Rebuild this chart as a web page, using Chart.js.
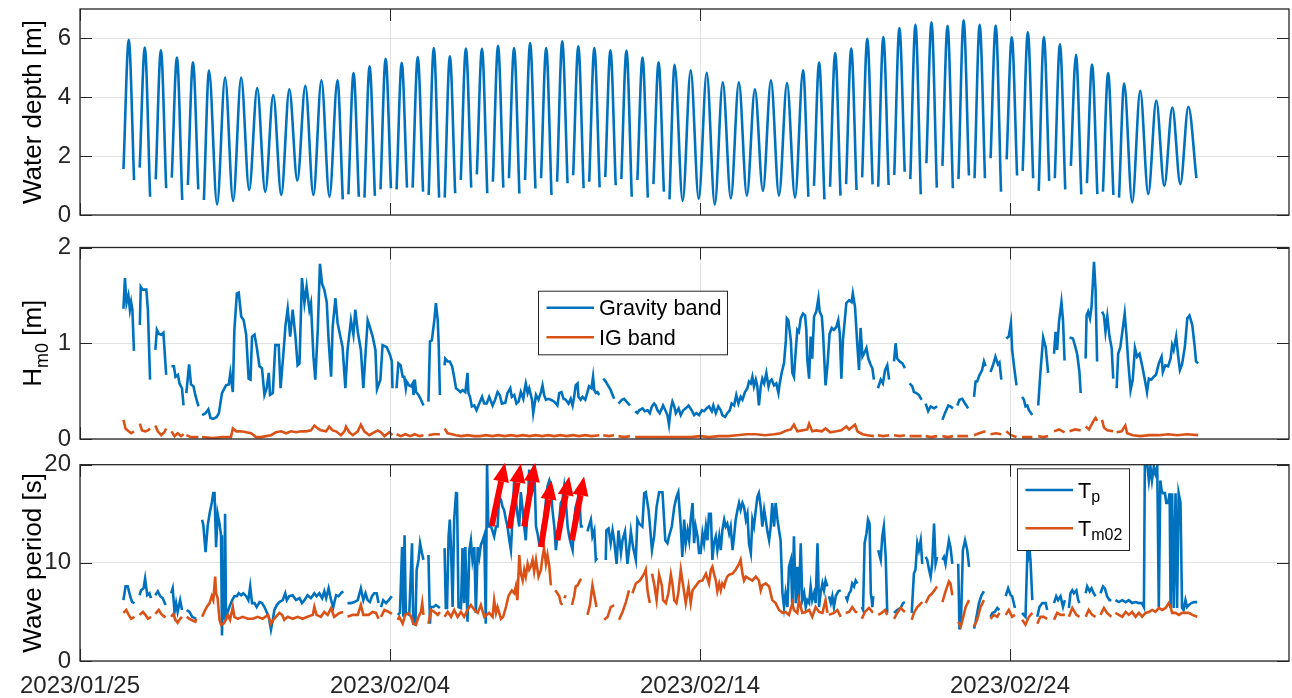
<!DOCTYPE html>
<html>
<head>
<meta charset="utf-8">
<script src="https://cdn.jsdelivr.net/npm/chart.js@4.4.1/dist/chart.umd.min.js"></script>
<style>
  body { margin: 0; background: #fff; overflow: hidden; }
  .panel { position: absolute; left: 0; width: 1292px; }
</style>
</head>
<body>
<div class="panel" style="top:0;height:232px"><canvas id="depthChart"></canvas></div>
<div class="panel" style="top:232px;height:218px"><canvas id="hsChart"></canvas></div>
<div class="panel" style="top:450px;height:248px"><canvas id="periodChart"></canvas></div>
<script>
// x axis: days after 2023/01/25
const xMax = 39;
const tickDays = [0, 10, 20, 30];
const tickLabels = ['2023/01/25', '2023/02/04', '2023/02/14', '2023/02/24'];

const depthTicks = [0, 2, 4, 6];
const hsTicks = [0, 1, 2];
const periodTicks = [0, 10, 20];

// water depth: high waters are evenly spaced (semi-diurnal tide)
const tideFirstHigh = 1.573;
const tidePeriod = 0.5179;
const depthStart = 1.56;
const depthHigh = [
  5.95, 5.69, 5.60, 5.35, 5.19, 4.91, 4.67, 4.67, 4.31, 4.08, 4.27, 4.39, 4.58, 4.58, 4.82, 5.05, 5.31, 5.17, 5.37, 5.67, 5.39, 5.66, 5.65,
  5.75, 5.67, 5.84, 5.67, 5.90, 5.73, 5.67, 5.60, 5.59, 5.35, 5.19, 5.10, 4.92, 4.83, 4.51, 4.51, 4.27, 4.58, 4.48, 4.92, 5.18, 5.50, 5.66, 5.99, 6.05,
  6.35, 6.46, 6.55, 6.43, 6.62, 6.46, 6.44, 6.04, 6.21, 6.05, 5.80, 5.44, 5.11, 4.82, 4.47, 4.22, 3.89, 3.65, 3.68
];
// low water after each high: one value = trough, two values = [last before gap, first after gap]
const depthLow = [
  [1.19, 1.61], [0.62, 1.21], [0.91, 1.27], [0.51, 1.02], [0.87, 0.51], 0.36, 0.48, 0.85, 0.79, 0.68, 1.17, 0.68, 0.62,
  [0.53, 0.70], [0.62, 0.59], [0.65, 0.87], [0.91, 0.87], [0.93, 0.93], [0.79, 0.68], [0.59, 0.59], [0.74, 1.19], [0.93, 1.38],
  [0.74, 1.13], [0.93, 1.25], [0.73, 1.19], [0.90, 1.25], [0.68, 1.13], [1.08, 1.35], [0.91, 1.13], [0.94, 1.29], [1.01, 1.22],
  [0.62, 1.19], [0.59, 1.05], [0.79, 0.53], 0.48, 0.55, 0.36, 0.57, 0.66, 0.82, 0.66, 0.59,
  [0.62, 0.99], [0.53, 0.96], [0.66, 1.05], [0.85, 1.28], [1.04, 0.96], [1.02, 1.36], [1.47, 1.22], [0.70, 1.76], [0.93, 1.67],
  [0.91, 1.22], [1.34, 1.25], [1.25, 1.93], [0.79, 1.89], [1.34, 1.50], [1.25, 0.82], [1.16, 1.25], [0.87, 1.67], [0.70, 1.08],
  [0.71, 0.79], [0.68, 0.59], 0.43, 0.71, 0.99, 1.05, 1.25
];

// Hm0 gravity band, segments of [day, m]
const hsGravity = [
  [[1.40,1.36],[1.45,1.68],[1.50,1.42],[1.56,1.50],[1.61,1.35],[1.65,1.43],[1.69,1.35],[1.74,0.92]],
  [[1.93,1.19],[1.96,1.59],[2.02,1.56],[2.08,1.56],[2.14,1.56],[2.19,1.35],[2.26,0.62]],
  [[2.43,0.93],[2.48,1.14],[2.54,1.10],[2.62,1.09],[2.69,1.11],[2.78,0.67]],
  [[2.95,0.76],[3.03,0.76],[3.08,0.65],[3.16,0.67],[3.21,0.58],[3.29,0.53],[3.34,0.35]],
  [[3.43,0.48],[3.52,0.78],[3.58,0.57],[3.66,0.55],[3.72,0.46],[3.82,0.34]],
  [[3.94,0.25],[4.05,0.27],[4.14,0.31],[4.21,0.22],[4.30,0.21],[4.41,0.23],[4.48,0.27],[4.58,0.48],[4.71,0.56],[4.80,0.57],[4.85,0.69],[4.93,0.49],
   [4.98,1.14],[5.06,1.52],[5.12,1.53],[5.20,1.28],[5.28,1.24],[5.36,1.09],[5.44,0.63],[5.50,0.62],[5.55,1.07],[5.63,1.09],[5.70,0.96],[5.79,0.76],
   [5.87,0.74],[5.95,0.46],[6.02,0.53],[6.09,0.69],[6.13,0.46],[6.22,0.48],[6.30,0.98],[6.41,0.98],[6.47,0.53],[6.56,0.89],[6.63,1.19],[6.70,1.36],
   [6.78,1.07],[6.86,1.35],[6.95,1.07],[7.02,0.77],[7.08,0.79],[7.16,1.68],[7.24,1.42],[7.31,1.59],[7.40,1.35],[7.45,1.42],[7.53,0.86],[7.59,0.62],
   [7.67,1.14],[7.74,1.83],[7.81,1.62],[7.88,1.56],[7.96,1.43],[8.02,1.03],[8.10,0.65],[8.15,1.17],[8.24,1.47],[8.31,1.21],[8.47,0.96],[8.56,0.53],
   [8.63,0.93],[8.74,1.24],[8.82,1.09],[8.88,1.35],[8.96,1.12],[9.06,0.93],[9.14,0.53],[9.21,0.89],[9.28,1.24],[9.35,1.17],[9.44,1.07],[9.53,0.93],
   [9.58,0.52],[9.69,0.62],[9.76,0.98],[9.89,0.96],[10.00,0.88],[10.06,0.81],[10.08,0.53]],
  [[10.21,0.53],[10.27,0.79],[10.34,0.77],[10.41,0.65],[10.46,0.65],[10.51,0.53],[10.54,0.60],[10.62,0.56],[10.68,0.55],[10.73,0.58],[10.76,0.46],
   [10.80,0.62],[10.84,0.49],[10.92,0.46],[11.00,0.41],[11.08,0.35]],
  [[11.24,0.39],[11.29,1.02],[11.35,1.03],[11.43,1.24],[11.48,1.42],[11.54,1.24],[11.57,1.00],[11.61,0.46]],
  [[11.76,0.77],[11.78,0.84],[11.86,0.81],[11.93,0.81],[12.00,0.76],[12.04,0.70],[12.13,0.53],[12.21,0.51],[12.27,0.49],[12.34,0.51],[12.43,0.49],
   [12.50,0.69],[12.53,0.48],[12.58,0.44],[12.64,0.34],[12.72,0.35],[12.79,0.30],[12.88,0.37],[12.97,0.44],[13.04,0.37],[13.12,0.37],[13.20,0.44],
   [13.31,0.35],[13.39,0.41],[13.47,0.49],[13.54,0.46],[13.61,0.37],[13.72,0.38],[13.79,0.48],[13.88,0.53],[13.93,0.44],[14.01,0.46],[14.08,0.37],
   [14.15,0.39],[14.22,0.49],[14.30,0.42],[14.35,0.53],[14.38,0.58],[14.44,0.48],[14.49,0.53],[14.58,0.41],[14.62,0.27],[14.71,0.46],[14.79,0.41],
   [14.87,0.49],[14.92,0.56],[14.97,0.46],[15.03,0.41],[15.11,0.42],[15.19,0.41],[15.30,0.39],[15.40,0.35],[15.46,0.48],[15.53,0.49],[15.60,0.42],
   [15.67,0.41],[15.76,0.37],[15.83,0.42],[15.89,0.35],[15.94,0.44],[15.99,0.56],[16.05,0.58],[16.08,0.44],[16.15,0.41],[16.21,0.44],[16.30,0.41],
   [16.37,0.49],[16.42,0.55],[16.50,0.53],[16.55,0.65],[16.59,0.51],[16.64,0.48],[16.69,0.49],[16.75,0.46]],
  [[16.88,0.63],[16.96,0.60],[17.05,0.55],[17.12,0.51],[17.18,0.46],[17.23,0.42]],
  [[17.37,0.37],[17.48,0.41],[17.55,0.42],[17.63,0.39],[17.74,0.35]],
  [[17.91,0.29],[17.98,0.27],[18.04,0.30],[18.15,0.32],[18.22,0.29],[18.31,0.30],[18.38,0.27],[18.45,0.34],[18.52,0.37],[18.57,0.35],[18.63,0.30],
   [18.70,0.27],[18.77,0.32],[18.81,0.35],[18.88,0.30],[18.95,0.25],[19.00,0.15],[19.06,0.32],[19.11,0.39],[19.17,0.34],[19.22,0.27],[19.31,0.32],
   [19.38,0.25],[19.46,0.30],[19.54,0.32],[19.63,0.35],[19.73,0.30],[19.81,0.25],[19.88,0.27],[19.97,0.25],[20.06,0.30],[20.13,0.29],[20.21,0.32],
   [20.29,0.34],[20.38,0.29],[20.43,0.35],[20.51,0.27],[20.59,0.34],[20.67,0.30],[20.72,0.25],[20.81,0.23],[20.88,0.27],[20.96,0.30],[21.02,0.37],
   [21.10,0.35],[21.17,0.46],[21.24,0.37],[21.31,0.44],[21.37,0.41],[21.45,0.49],[21.53,0.53],[21.58,0.60],[21.64,0.58],[21.69,0.65],[21.74,0.55],
   [21.80,0.62],[21.85,0.55],[21.90,0.35],[21.96,0.55],[22.01,0.63],[22.07,0.58],[22.14,0.69],[22.21,0.55],[22.25,0.60],[22.31,0.62],[22.39,0.56],
   [22.46,0.58],[22.53,0.48],[22.57,0.58],[22.64,0.70],[22.71,0.79],[22.77,1.03],[22.80,1.26],[22.85,1.24],[22.93,1.03],[22.98,0.69],[23.03,0.65],
   [23.09,0.93],[23.14,1.14],[23.19,1.12],[23.25,1.26],[23.32,1.31],[23.39,1.29],[23.43,1.14],[23.46,0.84],[23.52,0.63],[23.57,1.07],[23.62,0.84],
   [23.68,1.28],[23.75,1.33],[23.82,1.47],[23.86,1.33],[23.93,1.28],[23.97,1.10],[24.05,0.56],[24.11,0.76],[24.18,1.10],[24.25,1.16],[24.32,1.14],
   [24.40,1.17],[24.46,1.24],[24.51,1.10],[24.56,0.63],[24.61,1.03],[24.67,1.24],[24.72,1.42],[24.81,1.45],[24.89,1.43],[24.93,1.52],[25.00,1.38],
   [25.08,0.96],[25.13,0.72],[25.18,1.16],[25.24,0.86],[25.29,0.89],[25.37,0.95],[25.43,0.84],[25.51,0.77],[25.56,0.74],[25.61,0.62]],
  [[25.74,0.53],[25.83,0.62],[25.90,0.58],[25.97,0.72],[26.04,0.77],[26.10,0.62]],
  [[26.26,0.81],[26.31,1.00],[26.36,0.84],[26.44,0.81],[26.53,0.79],[26.61,0.74]],
  [[26.76,0.58],[26.85,0.55],[26.90,0.49],[26.98,0.48],[27.06,0.46],[27.15,0.41]],
  [[27.28,0.37],[27.36,0.29],[27.44,0.34],[27.55,0.32],[27.65,0.34]],
  [[27.82,0.20],[27.90,0.27],[28.01,0.35],[28.08,0.34],[28.16,0.32]],
  [[28.30,0.35],[28.37,0.41],[28.46,0.42],[28.55,0.37],[28.65,0.32]],
  [[28.84,0.44],[28.89,0.60],[28.94,0.60],[29.02,0.67],[29.10,0.72],[29.16,0.81],[29.21,0.76]],
  [[29.37,0.70],[29.45,0.77],[29.53,0.86],[29.61,0.78],[29.66,0.80],[29.72,0.62]],
  [[29.88,1.05],[29.96,1.07],[30.03,1.21],[30.07,0.93],[30.13,0.76],[30.21,0.56]],
  [[30.39,0.44],[30.45,0.41],[30.50,0.34],[30.56,0.35],[30.61,0.30],[30.72,0.25]],
  [[30.91,0.35],[30.98,0.69],[31.07,1.06],[31.15,0.96],[31.23,0.69]],
  [[31.42,0.89],[31.47,1.12],[31.52,0.93],[31.58,1.22],[31.66,1.43],[31.71,1.24],[31.76,0.82]],
  [[31.92,1.06],[32.03,1.05],[32.11,0.96],[32.17,0.88],[32.24,0.70],[32.28,0.48]],
  [[32.44,0.84],[32.47,1.29],[32.52,1.33],[32.58,1.26],[32.63,1.38],[32.71,1.85],[32.76,1.56],[32.81,0.81]],
  [[32.97,1.33],[33.03,1.29],[33.08,1.12],[33.14,1.28],[33.21,1.07],[33.28,0.95],[33.33,0.63]],
  [[33.44,0.53],[33.49,0.89],[33.56,0.96],[33.64,1.16],[33.70,1.31],[33.76,1.07],[33.81,0.82],[33.89,0.51],[33.96,0.62],[34.03,0.95],[34.10,0.86],
   [34.18,0.89],[34.26,0.77],[34.35,0.62],[34.42,0.49],[34.48,0.63],[34.56,0.62],[34.64,0.65],[34.71,0.67],[34.80,0.79],[34.89,0.86],[34.93,0.70],
   [35.01,0.77],[35.10,0.76],[35.18,0.84],[35.23,0.98],[35.28,0.93],[35.36,1.07],[35.42,0.88],[35.48,0.72],[35.55,0.78],[35.64,0.96],[35.72,1.26],
   [35.79,1.29],[35.88,1.19],[35.96,0.96],[36.00,0.81],[36.07,0.79]]
];

// Hm0 IG band
const hsIG = [
  [[1.40,0.20],[1.47,0.11],[1.57,0.08],[1.65,0.06],[1.74,0.08]],
  [[1.93,0.16],[2.00,0.09],[2.11,0.08],[2.19,0.09],[2.26,0.11]],
  [[2.43,0.14],[2.51,0.08],[2.62,0.04],[2.72,0.07],[2.78,0.11]],
  [[2.95,0.08],[3.05,0.03],[3.15,0.06],[3.26,0.03],[3.34,0.05]],
  [[3.43,0.04],[3.58,0.02],[3.82,0.02]],
  [[3.94,0.02],[4.28,0.01],[4.61,0.02],[4.87,0.02],[4.93,0.11],[5.04,0.08],[5.20,0.08],[5.36,0.07],[5.52,0.06],[5.68,0.02],[5.84,0.02],[6.00,0.03],
   [6.16,0.04],[6.32,0.07],[6.49,0.08],[6.65,0.06],[6.81,0.08],[6.97,0.07],[7.13,0.08],[7.29,0.08],[7.45,0.09],[7.56,0.14],[7.67,0.11],[7.77,0.09],
   [7.94,0.08],[8.04,0.13],[8.15,0.09],[8.26,0.08],[8.42,0.04],[8.53,0.08],[8.58,0.13],[8.69,0.07],[8.80,0.04],[8.96,0.08],[9.06,0.15],[9.17,0.08],
   [9.33,0.04],[9.49,0.07],[9.60,0.09],[9.71,0.07],[9.82,0.03],[9.98,0.07],[10.08,0.04]],
  [[10.21,0.05],[10.35,0.03],[10.50,0.05],[10.65,0.03],[10.80,0.05],[10.95,0.03],[11.08,0.04]],
  [[11.24,0.04],[11.40,0.05],[11.61,0.05]],
  [[11.76,0.11],[11.86,0.06],[12.00,0.05],[12.13,0.04],[12.30,0.03],[12.50,0.04],[12.70,0.03],[12.90,0.03],[13.10,0.04],[13.30,0.03],[13.50,0.04],
   [13.70,0.03],[13.90,0.04],[14.10,0.03],[14.30,0.04],[14.50,0.03],[14.70,0.04],[14.90,0.03],[15.10,0.04],[15.30,0.03],[15.50,0.04],[15.70,0.03],
   [15.90,0.04],[16.10,0.03],[16.30,0.04],[16.50,0.03],[16.75,0.04]],
  [[16.88,0.04],[17.05,0.03],[17.23,0.04]],
  [[17.37,0.03],[17.55,0.02],[17.74,0.03]],
  [[17.91,0.02],[18.20,0.02],[18.50,0.02],[18.80,0.02],[19.10,0.02],[19.40,0.02],[19.70,0.02],[20.00,0.03],[20.30,0.02],[20.60,0.03],[20.90,0.03],
   [21.20,0.04],[21.50,0.05],[21.80,0.05],[22.10,0.04],[22.40,0.05],[22.60,0.06],[22.80,0.09],[22.93,0.10],[23.03,0.15],[23.14,0.08],[23.30,0.09],
   [23.46,0.10],[23.52,0.16],[23.62,0.08],[23.75,0.09],[23.93,0.08],[24.05,0.11],[24.20,0.07],[24.40,0.08],[24.56,0.09],[24.72,0.13],[24.81,0.10],
   [25.00,0.15],[25.08,0.08],[25.24,0.05],[25.40,0.04],[25.61,0.03]],
  [[25.74,0.04],[25.90,0.03],[26.10,0.04]],
  [[26.26,0.04],[26.45,0.03],[26.61,0.04]],
  [[26.76,0.03],[26.95,0.03],[27.15,0.03]],
  [[27.28,0.03],[27.45,0.02],[27.65,0.03]],
  [[27.82,0.03],[28.00,0.02],[28.16,0.03]],
  [[28.30,0.03],[28.50,0.03],[28.65,0.03]],
  [[28.84,0.04],[29.00,0.06],[29.21,0.08]],
  [[29.37,0.05],[29.55,0.06],[29.72,0.05]],
  [[29.88,0.08],[30.03,0.04],[30.21,0.02]],
  [[30.39,0.02],[30.55,0.02],[30.72,0.02]],
  [[30.91,0.03],[31.07,0.02],[31.23,0.03]],
  [[31.42,0.08],[31.58,0.10],[31.76,0.07]],
  [[31.92,0.08],[32.10,0.10],[32.28,0.09]],
  [[32.44,0.13],[32.55,0.10],[32.71,0.20],[32.76,0.22],[32.81,0.19]],
  [[32.97,0.20],[33.03,0.12],[33.14,0.09],[33.33,0.08]],
  [[33.44,0.07],[33.60,0.08],[33.72,0.14],[33.78,0.06],[33.96,0.04],[34.20,0.03],[34.50,0.04],[34.80,0.04],[35.10,0.05],[35.40,0.04],[35.70,0.05],
   [36.07,0.04]]
];

// peak period Tp [s]
const periodTp = [
  [[1.40,6.2],[1.47,7.6],[1.54,7.6],[1.62,6.6],[1.68,6.0],[1.76,5.9]],
  [[1.92,6.7],[1.97,7.2],[2.05,7.4],[2.10,8.4],[2.17,6.7],[2.24,6.9],[2.29,6.4]],
  [[2.43,6.7],[2.51,7.1],[2.59,6.6],[2.67,6.4],[2.76,5.7]],
  [[2.94,6.9],[2.99,7.4],[3.05,5.0],[3.10,5.9],[3.15,5.0],[3.23,6.2],[3.29,5.2]],
  [[3.44,5.2],[3.53,5.0],[3.62,4.5],[3.75,4.3]],
  [[3.94,14.4],[3.98,13.8],[4.05,11.1],[4.12,13.8],[4.18,15.0],[4.25,16.1],[4.30,17.1],[4.34,17.1],[4.39,11.6],[4.44,15.0],[4.50,14.0],[4.55,12.8],
   [4.58,2.6],[4.62,10.3],[4.65,4.2],[4.68,15.0],[4.71,4.5],[4.82,5.5],[4.91,6.2],[4.98,6.6],[5.06,6.6],[5.12,6.9],[5.20,6.7],[5.27,6.9],[5.36,6.6],
   [5.43,6.2],[5.49,7.6],[5.55,5.9],[5.63,5.9],[5.70,5.5],[5.79,6.0],[5.87,5.9],[5.95,5.5],[6.02,5.0],[6.09,4.5],[6.16,3.2],[6.22,4.2],[6.27,5.2],
   [6.35,5.7],[6.43,6.0],[6.54,6.2],[6.62,6.9],[6.67,6.2],[6.75,6.6],[6.86,6.7],[6.97,6.2],[7.08,6.4],[7.16,5.9],[7.24,6.2],[7.34,6.7],[7.45,6.4],
   [7.56,6.9],[7.63,6.6],[7.72,6.9],[7.81,6.4],[7.88,7.1],[7.94,6.4],[8.02,7.4],[8.10,6.2],[8.17,5.5],[8.26,6.7],[8.34,6.6],[8.42,6.9],[8.49,7.1]],
  [[8.63,5.9],[8.74,5.9],[8.85,6.0],[8.96,6.2],[9.06,7.4],[9.14,6.2],[9.21,6.9],[9.28,6.2],[9.35,6.0],[9.42,6.6],[9.49,6.9],[9.57,6.9],[9.63,5.9]],
  [[9.71,5.5],[9.78,6.2],[9.87,5.9],[9.96,6.2],[10.06,6.6]],
  [[10.25,4.7],[10.32,4.9],[10.39,11.6],[10.43,4.5],[10.47,12.8],[10.51,4.9],[10.62,4.7],[10.71,12.0],[10.75,3.8],[10.82,3.7],[10.86,9.3],
   [10.92,10.3],[10.97,12.0],[11.03,11.0],[11.08,10.3]],
  [[11.24,10.8],[11.29,3.8],[11.32,5.5],[11.40,5.5],[11.48,5.7],[11.57,5.5],[11.61,5.4]],
  [[11.76,11.5],[11.80,5.4],[11.84,5.4],[11.89,12.7],[11.93,14.4],[11.97,11.3],[12.02,5.5],[12.07,14.4],[12.13,17.1],[12.16,17.2],[12.21,5.5],
   [12.29,5.4],[12.34,11.5],[12.39,5.9],[12.43,11.6],[12.50,4.0],[12.56,11.3],[12.61,12.3],[12.66,10.3],[12.72,11.6],[12.77,4.9],[12.83,11.6],
   [12.88,10.6],[12.93,11.8],[12.99,12.3],[13.04,12.8],[13.09,3.8],[13.13,20.3],[13.17,13.7],[13.26,13.7],[13.31,13.2],[13.36,12.7],[13.42,13.7],
   [13.47,13.7],[13.52,16.7],[13.58,16.4],[13.63,15.7],[13.68,15.4],[13.74,14.4],[13.79,13.7],[13.85,12.3],[13.90,11.3],[13.95,14.4],[14.01,18.8],
   [14.06,16.4],[14.11,15.0],[14.17,13.7],[14.22,17.2],[14.28,15.4],[14.33,13.7],[14.38,12.3],[14.44,15.7],[14.49,19.5],[14.54,16.7],[14.60,17.4],
   [14.65,20.3],[14.71,13.7],[14.76,13.0],[14.81,12.0],[14.87,12.3],[14.92,13.7],[14.97,14.4],[15.03,16.4],[15.08,17.8],[15.14,18.4],[15.19,17.8],
   [15.24,15.4],[15.30,13.7],[15.35,11.3],[15.40,12.7],[15.46,14.4],[15.51,16.1],[15.56,16.4],[15.62,17.8],[15.67,16.4],[15.73,13.7],[15.78,12.7],
   [15.83,12.0],[15.89,11.3],[15.94,14.4],[15.99,15.7],[16.05,16.4],[16.10,17.1],[16.16,13.7],[16.23,13.7]],
  [[16.37,13.2],[16.42,13.8],[16.48,14.4],[16.53,12.7],[16.59,13.3],[16.64,10.3],[16.69,10.5]],
  [[16.96,10.3],[16.98,13.3],[17.05,13.5],[17.12,12.0],[17.18,13.3],[17.23,12.3],[17.31,9.9],[17.37,13.3],[17.45,11.0],[17.50,12.3],[17.58,13.2],
   [17.66,9.9],[17.71,11.3],[17.77,13.2],[17.84,11.6],[17.93,10.3],[17.98,14.4],[18.04,14.0],[18.14,13.7],[18.20,17.1],[18.25,17.2],[18.34,15.4],
   [18.38,14.0],[18.45,11.3],[18.52,12.7],[18.60,15.7],[18.68,17.2],[18.79,17.2],[18.88,12.3],[18.95,12.0],[19.00,12.7],[19.09,13.7],[19.17,15.7],
   [19.24,16.7],[19.30,17.2],[19.38,13.7],[19.43,10.6],[19.49,14.4],[19.54,12.0],[19.60,13.3],[19.65,12.3],[19.70,14.4],[19.76,16.1],[19.81,12.0],
   [19.86,13.7],[19.92,12.7],[19.97,11.0],[20.02,11.0],[20.08,13.0],[20.13,12.0],[20.19,13.7],[20.24,12.3],[20.29,15.0],[20.35,15.0],[20.40,10.3],
   [20.45,12.0],[20.51,12.7],[20.56,11.3],[20.62,12.7],[20.67,11.3],[20.72,13.3],[20.78,14.4],[20.83,13.7],[20.88,14.0],[20.94,13.0],[20.99,13.7],
   [21.05,11.3],[21.10,12.7],[21.15,14.4],[21.21,15.4],[21.26,16.1],[21.31,15.4],[21.37,16.1],[21.42,15.7],[21.48,14.4],[21.53,15.0],[21.58,12.0],
   [21.64,11.0],[21.69,14.4],[21.74,13.7],[21.80,15.4],[21.85,16.7],[21.90,17.1],[21.96,15.7],[22.01,13.7],[22.07,15.4],[22.12,14.4],[22.17,13.3],
   [22.23,12.3],[22.28,13.7],[22.33,16.1],[22.39,13.7],[22.44,16.1],[22.50,14.4],[22.55,13.3],[22.60,12.3],[22.66,6.9],[22.71,5.5],[22.76,6.9],
   [22.82,5.5],[22.87,9.6],[22.93,10.3],[22.98,5.5],[23.03,12.7],[23.09,5.9],[23.14,9.6],[23.19,6.2],[23.25,12.0],[23.30,6.2],[23.36,6.9],[23.41,5.5],
   [23.46,6.2],[23.52,5.9],[23.57,7.6],[23.62,6.2],[23.68,6.9],[23.73,5.9],[23.79,12.0],[23.84,5.5],[23.89,6.9],[23.95,7.9],[24.00,7.2],[24.05,8.2],
   [24.11,7.6]],
  [[24.16,6.6],[24.22,5.9],[24.27,6.6],[24.32,5.5],[24.38,6.6],[24.46,7.1],[24.54,7.2]],
  [[24.70,6.6],[24.75,6.2],[24.81,6.9],[24.86,7.1],[24.91,7.9],[24.97,7.6],[25.02,8.2],[25.08,7.9]],
  [[25.22,5.5],[25.26,5.2],[25.31,12.0],[25.37,13.0],[25.42,14.4],[25.47,14.0],[25.51,6.9],[25.54,6.2],[25.56,5.5],[25.59,6.6]],
  [[25.75,11.3],[25.83,10.3],[25.88,12.7],[25.93,13.7],[25.99,10.6],[26.04,4.9]],
  [[26.26,4.9],[26.36,5.2],[26.47,5.4],[26.55,5.9],[26.61,6.0]],
  [[26.83,4.9],[26.90,8.9],[26.95,9.3],[27.01,12.0],[27.06,11.3],[27.12,12.3],[27.17,9.9]],
  [[27.28,10.6],[27.33,10.3],[27.39,9.3],[27.44,8.6],[27.49,9.9],[27.55,14.0],[27.60,9.9],[27.65,10.6]],
  [[27.82,10.3],[27.87,10.6],[27.92,9.9],[27.98,11.3],[28.03,12.3],[28.08,11.6],[28.14,9.9]],
  [[28.33,9.9],[28.37,3.2],[28.42,4.2],[28.48,11.3],[28.55,12.3],[28.62,11.3],[28.68,9.6]],
  [[28.84,3.3],[28.89,4.0],[29.00,5.9],[29.08,6.7],[29.16,7.1]],
  [[29.37,4.5],[29.43,4.9],[29.51,5.0],[29.59,5.4],[29.66,5.2]],
  [[29.86,6.6],[29.94,7.4],[30.02,6.7],[30.07,6.6],[30.16,5.4]],
  [[30.39,4.9],[30.50,4.5],[30.56,11.0],[30.59,10.6],[30.63,11.3],[30.66,10.3],[30.72,6.2]],
  [[30.88,4.5],[30.95,5.5],[31.04,5.9],[31.15,5.9],[31.20,5.2]],
  [[31.42,5.9],[31.49,6.6],[31.55,6.2],[31.63,6.6],[31.71,5.5],[31.77,6.2]],
  [[31.90,5.4],[31.95,6.9],[32.01,7.2],[32.06,6.9],[32.14,7.2],[32.20,6.2],[32.24,5.9]],
  [[32.44,6.9],[32.49,7.6],[32.57,7.1],[32.63,7.4],[32.70,6.9],[32.76,6.6]],
  [[32.92,6.9],[33.00,7.6],[33.06,7.4],[33.13,6.6],[33.21,6.2],[33.27,6.2]],
  [[33.40,6.2],[33.51,6.0],[33.62,6.2],[33.73,6.0],[33.83,6.2],[33.94,5.9],[34.05,6.0],[34.16,5.9],[34.26,5.9],[34.32,5.5],[34.35,20.3],[34.42,20.3],
   [34.48,18.4],[34.53,19.8],[34.58,18.4],[34.64,19.8],[34.69,19.1],[34.75,19.8],[34.80,5.5],[34.85,18.4],[34.89,17.4],[34.93,17.1],[35.00,17.1],
   [35.04,16.1],[35.10,16.1],[35.15,17.1],[35.18,5.4],[35.23,17.1],[35.28,5.4],[35.34,17.1],[35.39,5.4],[35.44,17.1],[35.50,16.1],[35.55,5.4],
   [35.60,5.2],[35.66,6.2],[35.71,5.5],[35.77,5.7],[35.85,5.9],[35.93,6.0],[36.04,6.0]]
];

// mean period Tm02 [s]
const periodTm02 = [
  [[1.40,4.9],[1.49,5.2],[1.57,4.7],[1.65,4.3],[1.76,4.5]],
  [[1.92,4.7],[2.03,5.0],[2.11,4.7],[2.19,4.3],[2.29,4.5]],
  [[2.43,4.8],[2.54,5.2],[2.62,4.8],[2.72,4.5],[2.76,4.6]],
  [[2.94,4.5],[3.01,4.8],[3.08,4.2],[3.15,3.9],[3.23,4.3],[3.29,4.5]],
  [[3.44,4.5],[3.58,4.2],[3.72,4.0],[3.75,4.3]],
  [[3.94,4.5],[4.01,5.0],[4.09,5.5],[4.18,5.9],[4.25,6.6],[4.30,6.2],[4.36,8.6],[4.39,6.9],[4.44,6.4],[4.50,4.2],[4.55,3.7],[4.63,3.8],[4.71,4.2],
   [4.77,4.7],[4.84,4.2],[4.93,5.5],[4.98,4.5],[5.09,4.3],[5.25,4.5],[5.41,4.3],[5.57,4.3],[5.73,4.5],[5.89,4.3],[6.06,4.7],[6.16,3.8],[6.24,4.2],
   [6.32,4.5],[6.43,4.9],[6.52,4.7],[6.59,4.2],[6.70,4.5],[6.86,4.3],[7.02,4.5],[7.18,4.3],[7.34,4.5],[7.51,4.7],[7.56,5.5],[7.63,4.7],[7.77,4.5],
   [7.88,5.0],[7.99,4.7],[8.10,5.4],[8.20,4.5],[8.37,4.9],[8.49,5.0]],
  [[8.63,4.5],[8.80,4.7],[8.96,4.7],[9.06,5.7],[9.14,4.7],[9.31,4.7],[9.44,5.0],[9.55,4.9],[9.63,4.3]],
  [[9.71,4.5],[9.82,5.2],[9.96,5.0],[10.06,4.8]],
  [[10.25,4.2],[10.30,4.5],[10.41,3.8],[10.49,4.7],[10.60,4.9],[10.68,4.5],[10.75,3.8],[10.84,3.7],[10.92,4.5],[11.00,5.0],[11.04,5.9],[11.08,4.7]],
  [[11.24,3.8],[11.32,5.2],[11.43,5.0],[11.54,4.7],[11.61,5.0]],
  [[11.76,4.5],[11.86,5.0],[11.97,4.5],[12.07,5.2],[12.18,4.5],[12.29,5.0],[12.39,4.5],[12.50,5.2],[12.61,5.7],[12.72,5.2],[12.83,4.9],[12.93,5.7],
   [13.04,4.5],[13.12,4.7],[13.20,4.9],[13.31,4.5],[13.36,6.2],[13.42,4.9],[13.47,5.5],[13.58,4.3],[13.65,4.5],[13.74,5.5],[13.82,6.6],[13.87,6.9],
   [13.93,7.2],[14.01,6.9],[14.06,7.6],[14.11,6.2],[14.17,10.8],[14.22,8.9],[14.28,8.2],[14.33,9.3],[14.38,8.6],[14.44,9.9],[14.49,9.3],[14.54,9.6],
   [14.60,10.3],[14.65,9.1],[14.71,10.3],[14.79,8.6],[14.87,9.3],[14.92,10.6],[14.97,11.5],[15.03,9.9],[15.08,10.8],[15.14,9.6],[15.19,7.7]],
  [[15.33,7.2],[15.40,6.9],[15.46,6.6],[15.51,5.9],[15.56,5.7]],
  [[15.62,6.4],[15.67,6.7]],
  [[15.87,5.7],[15.94,6.6],[15.99,7.6],[16.05,7.7],[16.16,8.4]],
  [[16.37,4.7],[16.45,5.7],[16.53,7.7],[16.59,6.7],[16.66,5.5]],
  [[16.91,4.2],[17.02,4.5],[17.12,5.5],[17.23,5.7]],
  [[17.39,4.2],[17.50,5.0],[17.61,6.0],[17.71,7.2]],
  [[17.82,6.9],[17.93,7.9],[18.06,8.2],[18.20,8.9],[18.25,9.3],[18.31,7.1],[18.38,5.9]],
  [[18.45,8.9],[18.52,7.9],[18.60,6.2],[18.68,8.8],[18.77,7.7],[18.81,6.2],[18.90,5.9],[18.98,6.9],[19.06,8.8],[19.11,7.9],[19.17,6.2],[19.24,5.9],
   [19.30,6.9],[19.38,9.3],[19.46,7.6],[19.54,5.9],[19.63,7.6],[19.70,5.9],[19.76,7.2],[19.97,8.1],[20.08,8.2],[20.19,8.9],[20.29,7.9],[20.35,9.3],
   [20.40,9.6],[20.45,8.9],[20.51,8.2],[20.56,7.1],[20.62,7.9],[20.67,7.2],[20.72,7.9],[20.78,7.6],[20.83,8.2],[20.88,8.6],[20.94,8.8],[21.05,8.9],
   [21.15,9.3],[21.26,9.9],[21.31,10.3],[21.37,8.9],[21.42,8.2],[21.48,8.6],[21.58,8.4],[21.69,8.2],[21.80,8.6],[21.90,8.2],[21.96,7.2],[22.01,7.7],
   [22.12,7.9],[22.23,7.6],[22.33,6.2],[22.44,5.9],[22.55,5.2],[22.66,4.9],[22.76,5.0],[22.87,4.7],[22.98,5.9],[23.03,5.2],[23.14,4.9],[23.19,6.2],
   [23.30,4.9],[23.41,5.0],[23.52,5.2],[23.62,4.5],[23.73,5.5],[23.84,5.0],[23.95,4.9],[24.05,6.2],[24.11,4.9]],
  [[24.16,4.7],[24.32,4.9],[24.43,5.2],[24.54,4.5]],
  [[24.70,4.9],[24.81,5.0],[24.91,5.5],[25.02,5.0],[25.08,5.0]],
  [[25.22,4.3],[25.32,5.0],[25.45,5.4],[25.56,5.0],[25.59,5.0]],
  [[25.75,4.7],[25.86,4.9],[25.97,5.2],[26.04,4.7]],
  [[26.26,4.3],[26.36,4.9],[26.47,5.4],[26.61,5.0]],
  [[26.83,4.2],[26.90,4.9],[27.01,5.5],[27.17,6.0]],
  [[27.28,5.9],[27.39,6.6],[27.49,6.9],[27.65,7.6]],
  [[27.82,6.0],[27.92,7.1],[28.03,8.1],[28.08,7.9],[28.14,6.7]],
  [[28.33,4.0],[28.41,3.5],[28.48,4.3],[28.57,5.5],[28.68,6.2]],
  [[28.84,3.5],[28.94,4.2],[29.05,5.5],[29.16,6.2]],
  [[29.37,4.3],[29.48,4.7],[29.59,4.5],[29.66,4.9]],
  [[29.86,4.7],[29.96,5.2],[30.07,4.5],[30.16,4.7]],
  [[30.39,4.2],[30.50,3.7],[30.61,4.5],[30.72,4.9]],
  [[30.88,3.8],[30.98,4.5],[31.09,4.5],[31.20,4.3]],
  [[31.42,4.2],[31.52,4.9],[31.63,4.7],[31.77,4.7]],
  [[31.90,4.5],[32.01,5.4],[32.14,4.7],[32.24,4.5]],
  [[32.44,4.5],[32.54,5.2],[32.65,4.7],[32.76,4.5]],
  [[32.92,4.7],[33.03,5.4],[33.13,4.9],[33.27,4.5]],
  [[33.40,4.9],[33.51,4.7],[33.62,4.5],[33.73,5.0],[33.83,4.7],[33.94,5.0],[34.05,4.5],[34.16,4.9],[34.26,4.5],[34.37,4.9],[34.48,5.0],[34.59,5.2],
   [34.69,5.0],[34.80,5.4],[34.91,5.2],[35.02,5.4],[35.12,5.9],[35.18,5.5],[35.23,4.9],[35.34,4.9],[35.45,4.7],[35.55,4.9],[35.66,4.9],[35.77,4.9],
   [35.88,4.7],[36.04,4.5]]
];

// red arrows in the period panel: [day, s] tail -> head
const arrowTails = [[13.28,13.75],[13.85,13.5],[14.33,13.7],[14.87,11.6],[15.40,12.3],[15.87,12.3]];
const arrowHeads = [[13.71,20.2],[14.22,20.1],[14.68,20.2],[15.21,18.4],[15.78,18.8],[16.26,18.8]];

const FONT = "'Liberation Sans', Arial, Helvetica, sans-serif";
const INK = '#262626';
const GRID = '#e3e3e3';
const BLUE = '#0072BD';
const ORANGE = '#D95319';

function depthPoints() {
  const pts = [{ x: tideFirstHigh - 0.33 * tidePeriod, y: depthStart }];
  depthHigh.forEach((h, k) => {
    const t = tideFirstHigh + k * tidePeriod;
    pts.push({ x: t, y: h });
    const low = depthLow[k];
    if (Array.isArray(low)) {
      pts.push({ x: t + 0.33 * tidePeriod, y: low[0] });
      pts.push({ x: t + 0.5 * tidePeriod, y: null });
      pts.push({ x: t + 0.68 * tidePeriod, y: low[1] });
    } else {
      pts.push({ x: t + 0.5 * tidePeriod, y: low });
    }
  });
  return pts;
}

function segPoints(segs) {
  const pts = [];
  segs.forEach((seg, i) => {
    if (i > 0) pts.push({ x: (segs[i - 1][segs[i - 1].length - 1][0] + seg[0][0]) / 2, y: null });
    seg.forEach(p => pts.push({ x: p[0], y: p[1] }));
  });
  return pts;
}

// text made of parts, some of them subscripts
function drawParts(ctx, parts, x, y, size, subSize) {
  let w = 0;
  parts.forEach(p => {
    ctx.font = (p.sub ? subSize : size) + 'px ' + FONT;
    p.w = ctx.measureText(p.t).width;
    w += p.w;
  });
  let cx = x - w / 2;
  ctx.textAlign = 'left';
  ctx.textBaseline = 'alphabetic';
  parts.forEach(p => {
    ctx.font = (p.sub ? subSize : size) + 'px ' + FONT;
    ctx.fillText(p.t, cx, p.sub ? y + 7 : y);
    cx += p.w;
  });
}

function drawLegend(ctx, box, entries) {
  ctx.save();
  ctx.fillStyle = '#fff';
  ctx.fillRect(box.x, box.y, box.w, box.h);
  ctx.strokeStyle = INK;
  ctx.lineWidth = 1;
  ctx.strokeRect(box.x + 0.5, box.y + 0.5, box.w, box.h);
  entries.forEach(e => {
    ctx.strokeStyle = e.color;
    ctx.lineWidth = 2.6;
    ctx.beginPath();
    ctx.moveTo(box.x + 8.5, e.y);
    ctx.lineTo(box.x + 56, e.y);
    ctx.stroke();
    ctx.fillStyle = '#000';
    let cx = box.x + 61;
    ctx.textAlign = 'left';
    ctx.textBaseline = 'alphabetic';
    e.parts.forEach(p => {
      ctx.font = (p.sub ? 16 : 21.6) + 'px ' + FONT;
      ctx.fillText(p.t, cx, e.y + (p.sub ? 12 : 7.5));
      cx += ctx.measureText(p.t).width;
    });
  });
  ctx.restore();
}

function drawArrow(ctx, x0, y0, x1, y1) {
  const a = Math.atan2(y1 - y0, x1 - x0);
  const head = 19, half = 8;
  const bx = x1 - head * Math.cos(a), by = y1 - head * Math.sin(a);
  ctx.strokeStyle = '#ff0000';
  ctx.fillStyle = '#ff0000';
  ctx.lineWidth = 6;
  ctx.beginPath();
  ctx.moveTo(x0, y0);
  ctx.lineTo(bx, by);
  ctx.stroke();
  ctx.beginPath();
  ctx.moveTo(x1, y1);
  ctx.lineTo(bx + half * Math.sin(a), by - half * Math.cos(a));
  ctx.lineTo(bx - half * Math.sin(a), by + half * Math.cos(a));
  ctx.closePath();
  ctx.fill();
}

function makeChart(id, cfg) {
  const frame = {
    id: 'frame',
    afterDatasetsDraw(chart) {
      const { ctx, chartArea: a, scales } = chart;
      ctx.save();
      ctx.strokeStyle = INK;
      ctx.lineWidth = 1;
      ctx.beginPath();
      scales.x.ticks.forEach(t => {
        const x = Math.round(scales.x.getPixelForValue(t.value)) + 0.5;
        ctx.moveTo(x, a.top); ctx.lineTo(x, a.top + 12);
        ctx.moveTo(x, a.bottom); ctx.lineTo(x, a.bottom - 12);
      });
      scales.y.ticks.forEach(t => {
        const y = Math.round(scales.y.getPixelForValue(t.value)) + 0.5;
        ctx.moveTo(a.left, y); ctx.lineTo(a.left + 12, y);
        ctx.moveTo(a.right, y); ctx.lineTo(a.right - 12, y);
      });
      ctx.stroke();
      ctx.lineWidth = 1.3;
      ctx.strokeRect(a.left, a.top, a.right - a.left, a.bottom - a.top);
      ctx.restore();
    },
    afterDraw(chart) {
      const { ctx, chartArea: a } = chart;
      ctx.save();
      ctx.fillStyle = '#000';
      ctx.translate(41, (a.top + a.bottom) / 2);
      ctx.rotate(-Math.PI / 2);
      drawParts(ctx, cfg.title, 0, 0, 26, 18);
      ctx.restore();
      if (cfg.extra) cfg.extra(chart);
    }
  };
  const tickFont = { family: FONT, size: 24 };
  return new Chart(document.getElementById(id), {
    type: 'line',
    data: { datasets: cfg.datasets },
    options: {
      responsive: true,
      maintainAspectRatio: false,
      animation: false,
      devicePixelRatio: 1,
      layout: { padding: { top: cfg.padTop, right: 3, left: 0, bottom: 0 } },
      plugins: { legend: { display: false }, tooltip: { enabled: false } },
      elements: { point: { radius: 0 }, line: { borderWidth: 2.6, tension: 0 } },
      scales: {
        x: {
          type: 'linear', min: 0, max: xMax,
          afterBuildTicks: s => { s.ticks = tickDays.map(v => ({ value: v })); },
          afterFit: s => { s.height = cfg.xHeight; s.paddingLeft = 0; s.paddingRight = 0; },
          grid: { color: GRID, drawTicks: false },
          border: { display: false },
          ticks: {
            display: cfg.showX, font: tickFont, color: INK, padding: 11, maxRotation: 0, autoSkip: false,
            callback: v => tickLabels[tickDays.indexOf(v)]
          }
        },
        y: {
          type: 'linear', min: cfg.yMin, max: cfg.yMax,
          afterBuildTicks: s => { s.ticks = cfg.yTicks.map(v => ({ value: v })); },
          afterFit: s => { s.width = 80; s.paddingTop = 0; s.paddingBottom = 0; },
          grid: { color: GRID, drawTicks: false },
          border: { display: false },
          ticks: { font: tickFont, color: INK, padding: 9 }
        }
      }
    },
    plugins: [frame]
  });
}

makeChart('depthChart', {
  padTop: 9, xHeight: 17, showX: false, yMin: 0, yMax: 7, yTicks: depthTicks,
  title: [{ t: 'Water depth [m]' }],
  datasets: [{
    data: depthPoints(), borderColor: BLUE, cubicInterpolationMode: 'monotone', spanGaps: false
  }]
});

makeChart('hsChart', {
  padTop: 15.5, xHeight: 11, showX: false, yMin: 0, yMax: 2, yTicks: hsTicks,
  title: [{ t: 'H' }, { t: 'm0', sub: true }, { t: ' [m]' }],
  datasets: [
    { label: 'Gravity band', data: segPoints(hsGravity), borderColor: BLUE, order: 2 },
    { label: 'IG band', data: segPoints(hsIG), borderColor: ORANGE, order: 1 }
  ],
  extra: chart => drawLegend(chart.ctx, { x: 538, y: 58.7, w: 189, h: 63.6 }, [
    { color: BLUE, y: 75.7, parts: [{ t: 'Gravity band' }] },
    { color: ORANGE, y: 105.3, parts: [{ t: 'IG band' }] }
  ])
});

makeChart('periodChart', {
  padTop: 14.7, xHeight: 37, showX: true, yMin: 0, yMax: 20, yTicks: periodTicks,
  title: [{ t: 'Wave period [s]' }],
  datasets: [
    { label: 'Tp', data: segPoints(periodTp), borderColor: BLUE, order: 2 },
    { label: 'Tm02', data: segPoints(periodTm02), borderColor: ORANGE, order: 1 }
  ],
  extra: chart => {
    const { ctx, scales } = chart;
    ctx.save();
    arrowTails.forEach((p, i) => {
      const q = arrowHeads[i];
      drawArrow(ctx, scales.x.getPixelForValue(p[0]), scales.y.getPixelForValue(p[1]),
        scales.x.getPixelForValue(q[0]), scales.y.getPixelForValue(q[1]));
    });
    ctx.restore();
    drawLegend(ctx, { x: 1017, y: 18.3, w: 112, h: 81.7 }, [
      { color: BLUE, y: 40, parts: [{ t: 'T' }, { t: 'p', sub: true }] },
      { color: ORANGE, y: 78.3, parts: [{ t: 'T' }, { t: 'm02', sub: true }] }
    ]);
  }
});
</script>
</body>
</html>
